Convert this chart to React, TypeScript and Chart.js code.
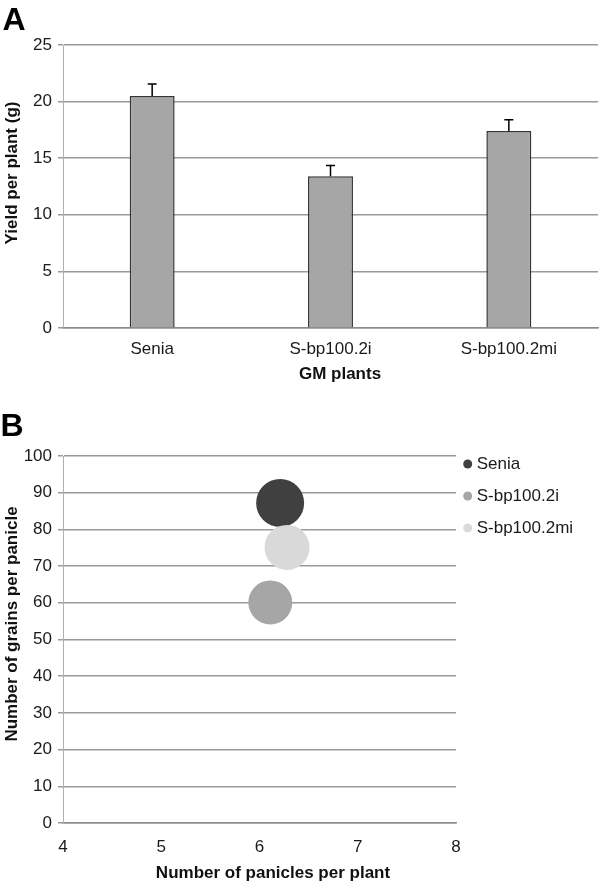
import React, { useEffect, useRef } from "react";
import { Chart, registerables } from "chart.js";

Chart.register(...registerables);

// ---- Panel A data ----
const yieldCategories = ["Senia", "S-bp100.2i", "S-bp100.2mi"];
const yieldValues = [20.5, 13.4, 17.4];
const yieldErrors = [1.05, 0.95, 1.0];
const yieldAxisMin = 0;
const yieldAxisMax = 25;
const yieldAxisStep = 5;

// ---- Panel B data ----
const bubbleSeries = ["Senia", "S-bp100.2i", "S-bp100.2mi"];
const paniclesPerPlant = [6.21, 6.11, 6.28];
const grainsPerPanicle = [87.2, 60.1, 75.1];
const bubbleSizes = [24, 22, 22.5];
const bubbleColors = ["#404040", "#a6a6a6", "#d9d9d9"];
const bubbleXMin = 4;
const bubbleXMax = 8;
const bubbleYMin = 0;
const bubbleYMax = 100;
const bubbleYStep = 10;

const FONT = "'Liberation Sans', Arial, Helvetica, sans-serif";
const GRID = "#9a9a9a";
const TEXT = "#1a1a1a";

const errorBarPlugin = {
  id: "errorBars",
  afterDatasetsDraw(chart: any) {
    const meta = chart.getDatasetMeta(0);
    const y = chart.scales.y;
    const ctx = chart.ctx;
    ctx.save();
    ctx.strokeStyle = "#000";
    ctx.lineWidth = 1.5;
    meta.data.forEach((bar: any, i: number) => {
      const top = y.getPixelForValue(yieldValues[i] + yieldErrors[i]);
      const base = y.getPixelForValue(yieldValues[i]);
      ctx.beginPath();
      ctx.moveTo(bar.x, base);
      ctx.lineTo(bar.x, top);
      ctx.moveTo(bar.x - 4.5, top);
      ctx.lineTo(bar.x + 4.5, top);
      ctx.stroke();
    });
    ctx.restore();
  },
};

const sideLegendPlugin = {
  id: "sideLegend",
  afterDraw(chart: any) {
    const { ctx, chartArea } = chart;
    ctx.save();
    ctx.font = `17px ${FONT}`;
    ctx.textBaseline = "middle";
    ctx.textAlign = "left";
    chart.data.datasets.forEach((ds: any, i: number) => {
      const x = chartArea.right + 11.7;
      const y = chartArea.top + 8 + i * 32;
      ctx.fillStyle = ds.backgroundColor;
      ctx.beginPath();
      ctx.arc(x, y, 4.5, 0, Math.PI * 2);
      ctx.fill();
      ctx.fillStyle = TEXT;
      ctx.fillText(ds.label, x + 9, y);
    });
    ctx.restore();
  },
};

function BarPanel() {
  const ref = useRef<HTMLCanvasElement>(null);
  useEffect(() => {
    if (!ref.current) return;
    const chart = new Chart(ref.current, {
      type: "bar",
      data: {
        labels: yieldCategories,
        datasets: [
          {
            label: "Yield per plant (g)",
            data: yieldValues,
            backgroundColor: "#a6a6a6",
            borderColor: "#333333",
            borderWidth: 1.5,
            categoryPercentage: 1,
            barPercentage: 0.252,
          },
        ],
      },
      options: {
        responsive: false,
        animation: false,
        layout: { padding: { top: 45, right: 2, left: 0, bottom: 0 } },
        plugins: { legend: { display: false }, tooltip: { enabled: false } },
        scales: {
          x: {
            grid: { display: true, drawOnChartArea: false, drawTicks: false },
            border: { display: true, color: "#8a8a8a", width: 1.5 },
            ticks: { color: TEXT, font: { size: 17, family: FONT }, padding: 11, maxRotation: 0 },
            afterFit: (s: any) => {
              s.height = 67;
            },
          },
          y: {
            min: yieldAxisMin,
            max: yieldAxisMax,
            ticks: { stepSize: yieldAxisStep, color: TEXT, font: { size: 17, family: FONT }, padding: 6 },
            grid: { color: GRID, lineWidth: 1.5, tickLength: 5, drawTicks: true },
            border: { display: true, color: "#b0b0b0", width: 1 },
            afterFit: (s: any) => {
              s.width = 63;
            },
          },
        },
      },
      plugins: [errorBarPlugin],
    } as any);
    return () => chart.destroy();
  }, []);
  return <canvas ref={ref} width={600} height={395} style={{ position: "absolute", left: 0, top: 0, width: 600, height: 395 }} />;
}

function BubblePanel() {
  const ref = useRef<HTMLCanvasElement>(null);
  useEffect(() => {
    if (!ref.current) return;
    const chart = new Chart(ref.current, {
      type: "bubble",
      data: {
        datasets: bubbleSeries.map((name, i) => ({
          label: name,
          data: [{ x: paniclesPerPlant[i], y: grainsPerPanicle[i], r: bubbleSizes[i] }],
          backgroundColor: bubbleColors[i],
          borderWidth: 0,
          order: bubbleSeries.length - i,
        })),
      },
      options: {
        responsive: false,
        animation: false,
        layout: { padding: { top: 61, right: 144, left: 0, bottom: 0 } },
        plugins: { legend: { display: false }, tooltip: { enabled: false } },
        scales: {
          x: {
            type: "linear",
            min: bubbleXMin,
            max: bubbleXMax,
            grid: { display: true, drawOnChartArea: false, drawTicks: false },
            border: { display: true, color: "#8a8a8a", width: 1.5 },
            ticks: { stepSize: 1, color: TEXT, font: { size: 17, family: FONT }, padding: 14 },
            afterFit: (s: any) => {
              s.height = 59;
            },
          },
          y: {
            min: bubbleYMin,
            max: bubbleYMax,
            ticks: { stepSize: bubbleYStep, color: TEXT, font: { size: 17, family: FONT }, padding: 6 },
            grid: { color: GRID, lineWidth: 1.5, tickLength: 5, drawTicks: true },
            border: { display: true, color: "#b0b0b0", width: 1 },
            afterFit: (s: any) => {
              s.width = 63;
            },
          },
        },
      },
      plugins: [sideLegendPlugin],
    } as any);
    return () => chart.destroy();
  }, []);
  return <canvas ref={ref} width={600} height={487} style={{ position: "absolute", left: 0, top: 395, width: 600, height: 487 }} />;
}

const textBase: React.CSSProperties = {
  position: "absolute",
  fontFamily: FONT,
  color: "#111",
  whiteSpace: "nowrap",
  lineHeight: 1,
};

function CenteredText({ x, y, text, size, rotate, bold }: { x: number; y: number; text: string; size: number; rotate?: boolean; bold?: boolean }) {
  return (
    <div
      style={{
        ...textBase,
        left: x,
        top: y,
        fontSize: size,
        fontWeight: bold ? "bold" : "normal",
        transform: `translate(-50%, -50%)${rotate ? " rotate(-90deg)" : ""}`,
      }}
    >
      {text}
    </div>
  );
}

export default function App() {
  return (
    <div style={{ position: "absolute", left: 0, top: 0, width: 600, height: 882, background: "#fff", overflow: "hidden" }}>
      <BarPanel />
      <BubblePanel />
      <div style={{ ...textBase, left: 2.5, top: 2.5, fontSize: 32, fontWeight: "bold", color: "#000" }}>A</div>
      <div style={{ ...textBase, left: 0.5, top: 409, fontSize: 32, fontWeight: "bold", color: "#000" }}>B</div>
      <CenteredText x={11} y={172.5} text="Yield per plant (g)" size={17} rotate bold />
      <CenteredText x={340} y={373} text="GM plants" size={17} bold />
      <CenteredText x={11} y={624} text="Number of grains per panicle" size={17} rotate bold />
      <CenteredText x={273} y={872} text="Number of panicles per plant" size={17} bold />
    </div>
  );
}
